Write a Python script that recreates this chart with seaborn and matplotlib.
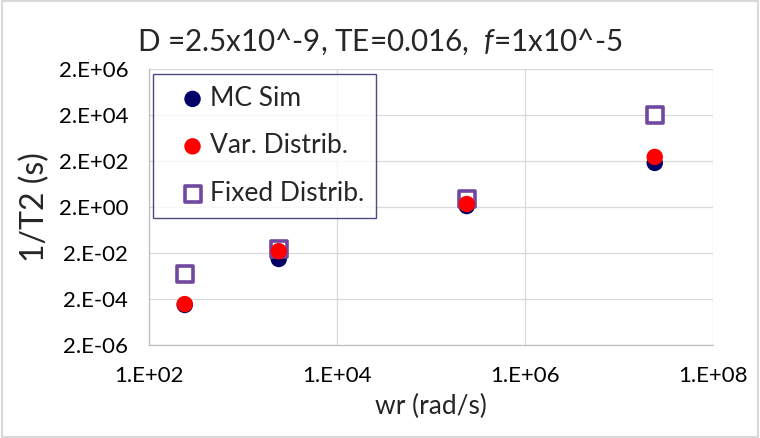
import numpy as np
import pandas as pd
import seaborn as sns
import matplotlib.pyplot as plt
from matplotlib.ticker import FixedLocator, FuncFormatter, NullLocator
from matplotlib.patches import Rectangle

# data
wr = [240, 2400, 240000, 24000000]
mc_sim = [1.1e-4, 0.011, 2.2, 165]
var_distrib = [1.2e-4, 0.024, 2.7, 300]
fixed_distrib = [2.4e-3, 0.029, 4.5, 2.0e4]

x_ticks = [1e2, 1e4, 1e6, 1e8]
y_ticks = [2e-6, 2e-4, 2e-2, 2e0, 2e2, 2e4, 2e6]

sns.set_style("white")
plt.rcParams['font.family'] = ['Lato', 'DejaVu Sans']
plt.rcParams['mathtext.fontset'] = 'custom'
plt.rcParams['mathtext.it'] = 'Lato:italic'
plt.rcParams['mathtext.rm'] = 'Lato'

df = pd.DataFrame({'wr': wr, 'mc': mc_sim, 'var': var_distrib, 'fixed': fixed_distrib})

fig = plt.figure(figsize=(7.6, 4.38), dpi=100)
ax = fig.add_axes([149/760, 1-345/438, 564/760, 276/438])

sns.scatterplot(data=df, x='wr', y='mc', ax=ax, color='#000066', s=140,
                edgecolor='none', label='MC Sim', zorder=3)
sns.scatterplot(data=df, x='wr', y='fixed', ax=ax, marker='s', s=125,
                facecolor='white', edgecolor='#7048A0', linewidth=2.6,
                label='Fixed Distrib.', zorder=4)
sns.scatterplot(data=df, x='wr', y='var', ax=ax, color='#FF0000', s=140,
                edgecolor='none', label='Var. Distrib.', zorder=5)

ax.set_xscale('log')
ax.set_yscale('log')
ax.set_xlim(1e2, 1e8)
ax.set_ylim(2e-6, 2e6)


def excel_fmt(v, pos=None):
    s = '%.0E' % v
    m, e = s.split('E')
    return m + '.E' + e


ax.xaxis.set_major_locator(FixedLocator(x_ticks))
ax.yaxis.set_major_locator(FixedLocator(y_ticks))
ax.xaxis.set_minor_locator(NullLocator())
ax.yaxis.set_minor_locator(NullLocator())
ax.xaxis.set_major_formatter(FuncFormatter(excel_fmt))
ax.yaxis.set_major_formatter(FuncFormatter(excel_fmt))
ax.tick_params(axis='both', labelsize=16, colors='#BFBFBF', length=5,
               width=0.8, labelcolor='black')
ax.tick_params(axis='x', pad=10)
ax.tick_params(axis='y', pad=10)

ax.grid(True, color='#D9D9D9', linewidth=0.9, zorder=0)
ax.set_axisbelow(True)
for sp in ['top', 'right']:
    ax.spines[sp].set_visible(False)
for sp in ['left', 'bottom']:
    ax.spines[sp].set_color('#BFBFBF')
    ax.spines[sp].set_linewidth(0.9)

ax.set_xlabel('wr (rad/s)', fontsize=19, labelpad=6)
ax.set_ylabel('1/T2 (s)', fontsize=23, labelpad=6)
fig.text(380/760, 1-42/438, 'D =2.5x10^-9, TE=0.016,  $\\mathit{f}$=1x10^-5',
         fontsize=21.3, ha='center', va='center')

h, l = ax.get_legend_handles_labels()
order = [0, 2, 1]
leg = ax.legend([h[i] for i in order], [l[i] for i in order],
                loc='upper left', bbox_to_anchor=(0.007, 0.982),
                borderaxespad=0, fontsize=19, frameon=True, fancybox=False,
                handletextpad=-0.4, labelspacing=0.85, borderpad=0.45,
                handlelength=2.1, markerscale=1.0)
leg.get_frame().set_edgecolor('#1F1F5F')
leg.get_frame().set_linewidth(1.0)

fig.patches.append(Rectangle((0.002, 0.003), 0.996, 0.994, transform=fig.transFigure,
                             fill=False, edgecolor='#D9D9D9', linewidth=1.5))

fig.savefig('out.png', dpi=100)
